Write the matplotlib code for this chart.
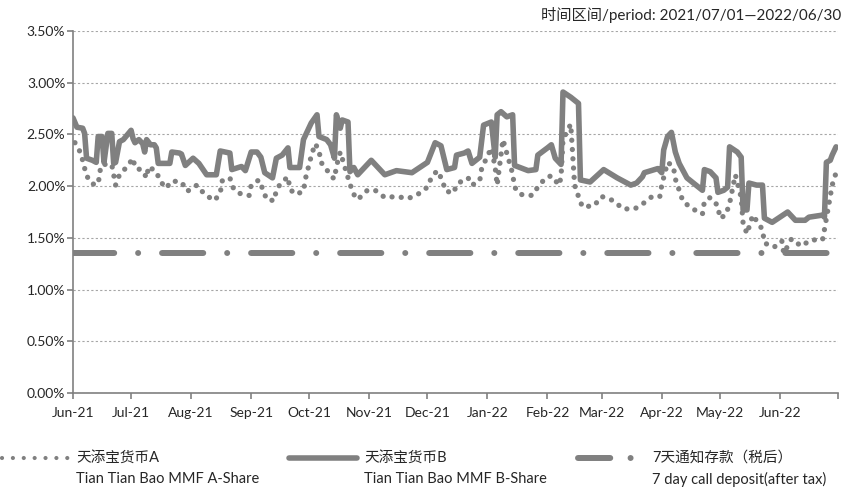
import matplotlib
matplotlib.use("Agg")
import matplotlib.pyplot as plt
from matplotlib.lines import Line2D
from matplotlib.ticker import FuncFormatter
import pandas as pd

plt.rcParams['font.family'] = ['Lato', 'Noto Sans CJK SC', 'DejaVu Sans']

# 天添宝货币B (solid line), 7-day annualised yield in %
b_dates = ["2021-06-01", "2021-06-03", "2021-06-06", "2021-06-07", "2021-06-08", "2021-06-11",
           "2021-06-13", "2021-06-14", "2021-06-16", "2021-06-17", "2021-06-19", "2021-06-21",
           "2021-06-22", "2021-06-23", "2021-06-25", "2021-06-27", "2021-07-01", "2021-07-02",
           "2021-07-03", "2021-07-05", "2021-07-07", "2021-07-08", "2021-07-09", "2021-07-11",
           "2021-07-13", "2021-07-14", "2021-07-15", "2021-07-21", "2021-07-22", "2021-07-26",
           "2021-07-27", "2021-07-29", "2021-08-02", "2021-08-05", "2021-08-09", "2021-08-14",
           "2021-08-16", "2021-08-21", "2021-08-22", "2021-08-27", "2021-08-29", "2021-09-01",
           "2021-09-04", "2021-09-06", "2021-09-08", "2021-09-12", "2021-09-14", "2021-09-17",
           "2021-09-20", "2021-09-21", "2021-09-26", "2021-09-28", "2021-10-02", "2021-10-05",
           "2021-10-06", "2021-10-10", "2021-10-12", "2021-10-14", "2021-10-15", "2021-10-17",
           "2021-10-18", "2021-10-21", "2021-10-22", "2021-10-24", "2021-10-26", "2021-11-02",
           "2021-11-09", "2021-11-15", "2021-11-23", "2021-12-01", "2021-12-05", "2021-12-08",
           "2021-12-11", "2021-12-15", "2021-12-16", "2021-12-20", "2021-12-22", "2021-12-24",
           "2021-12-28", "2021-12-30", "2022-01-03", "2022-01-05", "2022-01-06", "2022-01-08",
           "2022-01-11", "2022-01-14", "2022-01-15", "2022-01-22", "2022-01-26", "2022-01-27",
           "2022-02-01", "2022-02-03", "2022-02-05", "2022-02-08", "2022-02-09", "2022-02-13",
           "2022-02-17", "2022-02-18", "2022-02-23", "2022-03-02", "2022-03-09", "2022-03-16",
           "2022-03-19", "2022-03-22", "2022-03-23", "2022-03-30", "2022-04-01", "2022-04-02",
           "2022-04-04", "2022-04-06", "2022-04-08", "2022-04-10", "2022-04-14", "2022-04-22",
           "2022-04-23", "2022-04-26", "2022-04-29", "2022-04-30", "2022-05-03", "2022-05-05",
           "2022-05-06", "2022-05-10", "2022-05-12", "2022-05-13", "2022-05-15", "2022-05-16",
           "2022-05-20", "2022-05-23", "2022-05-24", "2022-05-28", "2022-06-01", "2022-06-05",
           "2022-06-07", "2022-06-09", "2022-06-14", "2022-06-16", "2022-06-23", "2022-06-24",
           "2022-06-25", "2022-06-27", "2022-06-28", "2022-06-30"]
b_values = [2.66, 2.57, 2.56, 2.51, 2.27, 2.25,
            2.23, 2.48, 2.48, 2.23, 2.51, 2.51,
            2.22, 2.23, 2.43, 2.45, 2.54, 2.46,
            2.42, 2.45, 2.41, 2.33, 2.45, 2.40,
            2.40, 2.37, 2.22, 2.22, 2.33, 2.32,
            2.31, 2.20, 2.27, 2.22, 2.11, 2.11,
            2.34, 2.32, 2.16, 2.19, 2.15, 2.33,
            2.33, 2.28, 2.13, 2.08, 2.27, 2.30,
            2.37, 2.18, 2.18, 2.45, 2.61, 2.69,
            2.48, 2.45, 2.40, 2.27, 2.69, 2.56,
            2.64, 2.62, 2.14, 2.18, 2.11, 2.25,
            2.11, 2.15, 2.13, 2.23, 2.42, 2.39,
            2.16, 2.18, 2.30, 2.32, 2.34, 2.22,
            2.28, 2.59, 2.62, 2.28, 2.69, 2.72,
            2.67, 2.69, 2.20, 2.15, 2.16, 2.30,
            2.37, 2.40, 2.27, 2.21, 2.91, 2.86,
            2.80, 2.06, 2.04, 2.16, 2.08, 2.01,
            2.03, 2.09, 2.13, 2.17, 2.13, 2.35,
            2.48, 2.52, 2.33, 2.22, 2.08, 1.96,
            2.16, 2.14, 2.08, 1.94, 1.96, 1.99,
            2.38, 2.33, 2.28, 1.77, 1.77, 2.03,
            2.01, 2.01, 1.69, 1.65, 1.70, 1.75,
            1.71, 1.67, 1.67, 1.70, 1.72, 1.70,
            2.23, 2.25, 2.30, 2.38]

# 天添宝货币A (dotted line)
a_dates = ["2021-06-02", "2021-06-05", "2021-06-08", "2021-06-11", "2021-06-14", "2021-06-15",
           "2021-06-16", "2021-06-21", "2021-06-22", "2021-06-23", "2021-06-25", "2021-06-29",
           "2021-07-02", "2021-07-03", "2021-07-07", "2021-07-09", "2021-07-10", "2021-07-14",
           "2021-07-16", "2021-07-19", "2021-07-22", "2021-07-27", "2021-07-30", "2021-08-04",
           "2021-08-08", "2021-08-13", "2021-08-16", "2021-08-17", "2021-08-21", "2021-08-23",
           "2021-08-27", "2021-08-31", "2021-09-01", "2021-09-05", "2021-09-07", "2021-09-09",
           "2021-09-13", "2021-09-14", "2021-09-17", "2021-09-20", "2021-09-21", "2021-09-24",
           "2021-09-28", "2021-09-29", "2021-10-02", "2021-10-04", "2021-10-06", "2021-10-07",
           "2021-10-09", "2021-10-12", "2021-10-14", "2021-10-15", "2021-10-17", "2021-10-22",
           "2021-10-24", "2021-10-26", "2021-10-31", "2021-11-04", "2021-11-09", "2021-11-15",
           "2021-11-21", "2021-11-26", "2021-12-01", "2021-12-03", "2021-12-06", "2021-12-09",
           "2021-12-10", "2021-12-14", "2021-12-17", "2021-12-22", "2021-12-24", "2021-12-28",
           "2021-12-29", "2022-01-03", "2022-01-05", "2022-01-06", "2022-01-09", "2022-01-14",
           "2022-01-15", "2022-01-18", "2022-01-24", "2022-01-27", "2022-01-31", "2022-02-03",
           "2022-02-07", "2022-02-08", "2022-02-09", "2022-02-13", "2022-02-15", "2022-02-17",
           "2022-02-19", "2022-02-25", "2022-03-01", "2022-03-07", "2022-03-12", "2022-03-18",
           "2022-03-23", "2022-03-27", "2022-03-31", "2022-04-01", "2022-04-04", "2022-04-07",
           "2022-04-08", "2022-04-10", "2022-04-12", "2022-04-17", "2022-04-22", "2022-04-23",
           "2022-04-26", "2022-04-30", "2022-05-01", "2022-05-04", "2022-05-06", "2022-05-09",
           "2022-05-12", "2022-05-13", "2022-05-15", "2022-05-16", "2022-05-18", "2022-05-23",
           "2022-05-24", "2022-05-29", "2022-06-02", "2022-06-03", "2022-06-07", "2022-06-12",
           "2022-06-17", "2022-06-23", "2022-06-24", "2022-06-28", "2022-06-30"]
a_values = [2.42, 2.32, 2.10, 2.02, 2.02, 2.15,
            2.21, 2.21, 2.11, 2.01, 2.11, 2.19,
            2.27, 2.18, 2.15, 2.08, 2.19, 2.14,
            2.05, 1.98, 2.05, 2.04, 1.95, 2.01,
            1.92, 1.86, 1.93, 2.05, 2.08, 1.97,
            1.92, 1.91, 2.01, 2.06, 1.97, 1.87,
            1.86, 1.97, 2.04, 2.09, 1.97, 1.92,
            1.95, 2.07, 2.29, 2.41, 2.35, 2.23,
            2.19, 2.10, 2.07, 2.19, 2.33, 2.02,
            1.92, 1.87, 1.96, 1.96, 1.89, 1.90,
            1.88, 1.92, 1.99, 2.08, 2.15, 2.05,
            1.96, 1.93, 2.03, 2.08, 2.01, 2.05,
            2.17, 2.37, 2.18, 2.01, 2.45, 2.12,
            1.99, 1.92, 1.91, 1.99, 2.08, 2.10,
            2.01, 2.09, 2.45, 2.60, 2.01, 1.90,
            1.80, 1.81, 1.90, 1.86, 1.78, 1.78,
            1.84, 1.90, 1.90, 2.01, 2.23, 2.19,
            2.07, 1.96, 1.85, 1.78, 1.73, 1.85,
            1.89, 1.81, 1.69, 1.72, 1.83, 2.11,
            1.89, 1.64, 1.54, 1.60, 1.72, 1.58,
            1.45, 1.41, 1.47, 1.35, 1.49, 1.42,
            1.48, 1.48, 1.58, 2.01, 2.13]

# 7天通知存款（税后） flat rate
call_dates = ["2021-06-01", "2022-06-30"]
call_values = [1.35, 1.35]

y_ticks = [0, 0.5, 1.0, 1.5, 2.0, 2.5, 3.0, 3.5]
title_text = "时间区间/period: 2021/07/01—2022/06/30"
legend_cn = ["天添宝货币A", "天添宝货币B", "7天通知存款（税后）"]
legend_en = ["Tian Tian Bao MMF A-Share", "Tian Tian Bao MMF B-Share", "7 day call deposit(after tax)"]

grey = "#808080"
txt = "#262626"
a_style = dict(color=grey, lw=3.8, linestyle=(0, (0.01, 1.75)), dash_capstyle='round')
b_style = dict(color=grey, lw=4.0, solid_joinstyle='round', solid_capstyle='round')
c_style = dict(color=grey, lw=4.3, linestyle=(0, (6.9, 4.0, 0.01, 4.0)), dash_capstyle='round')
# legend samples are a bit shorter, so their patterns are tighter
a_leg = dict(a_style, lw=3.0, linestyle=(0, (0.01, 2.6)))
c_leg = dict(c_style, linestyle=(0, (5.4, 3.4, 0.01, 10)))

fig = plt.figure(figsize=(8.43, 4.88), dpi=100)
ax = fig.add_axes([73 / 843, 1 - 393 / 488, (838 - 73) / 843, (393 - 31) / 488])

ax.plot(pd.to_datetime(call_dates), call_values, **c_style)
ax.plot(pd.to_datetime(a_dates), a_values, **a_style)
ax.plot(pd.to_datetime(b_dates), b_values, **b_style)

ax.set_ylim(0, 3.5)
ax.set_yticks(y_ticks)
ax.yaxis.set_major_formatter(FuncFormatter(lambda v, p: f"{v:.2f}%"))
ax.grid(axis='y', color='#a6a6a6', linestyle=(0, (2, 2)), lw=0.8)
ax.set_axisbelow(True)

months = pd.date_range("2021-06-01", "2022-07-01", freq="MS")
ax.set_xlim(months[0], months[-1])
ax.set_xticks(months)
ax.set_xticklabels([m.strftime("%b-%y") for m in months[:-1]] + [""])

for s in ['top', 'right']:
    ax.spines[s].set_visible(False)
for s in ['left', 'bottom']:
    ax.spines[s].set_color(grey)
    ax.spines[s].set_linewidth(1.2)
ax.tick_params(axis='both', colors=grey, length=4, width=1.2, labelcolor=txt, labelsize=10)
ax.tick_params(axis='x', pad=6)
ax.tick_params(axis='y', pad=1.5)

fig.text(841 / 843, 1 - 15 / 488, title_text, ha='right', va='center', fontsize=11, color=txt)

# legend, drawn by hand so the handle sits on the first text line
handles = [(2, 68, a_leg), (289, 357, b_style), (578, 640, c_leg)]
text_x = [76, 364, 652]
for (x0, x1, st), tx, cn, en in zip(handles, text_x, legend_cn, legend_en):
    fig.add_artist(Line2D([x0 / 843, x1 / 843], [1 - 458 / 488] * 2, transform=fig.transFigure, **st))
    fig.text(tx / 843, 1 - 458 / 488, cn, ha='left', va='center', fontsize=10.5, color=txt)
    fig.text(tx / 843, 1 - 479 / 488, en, ha='left', va='center', fontsize=10.5, color=txt)

fig.savefig("out.png", dpi=100)
